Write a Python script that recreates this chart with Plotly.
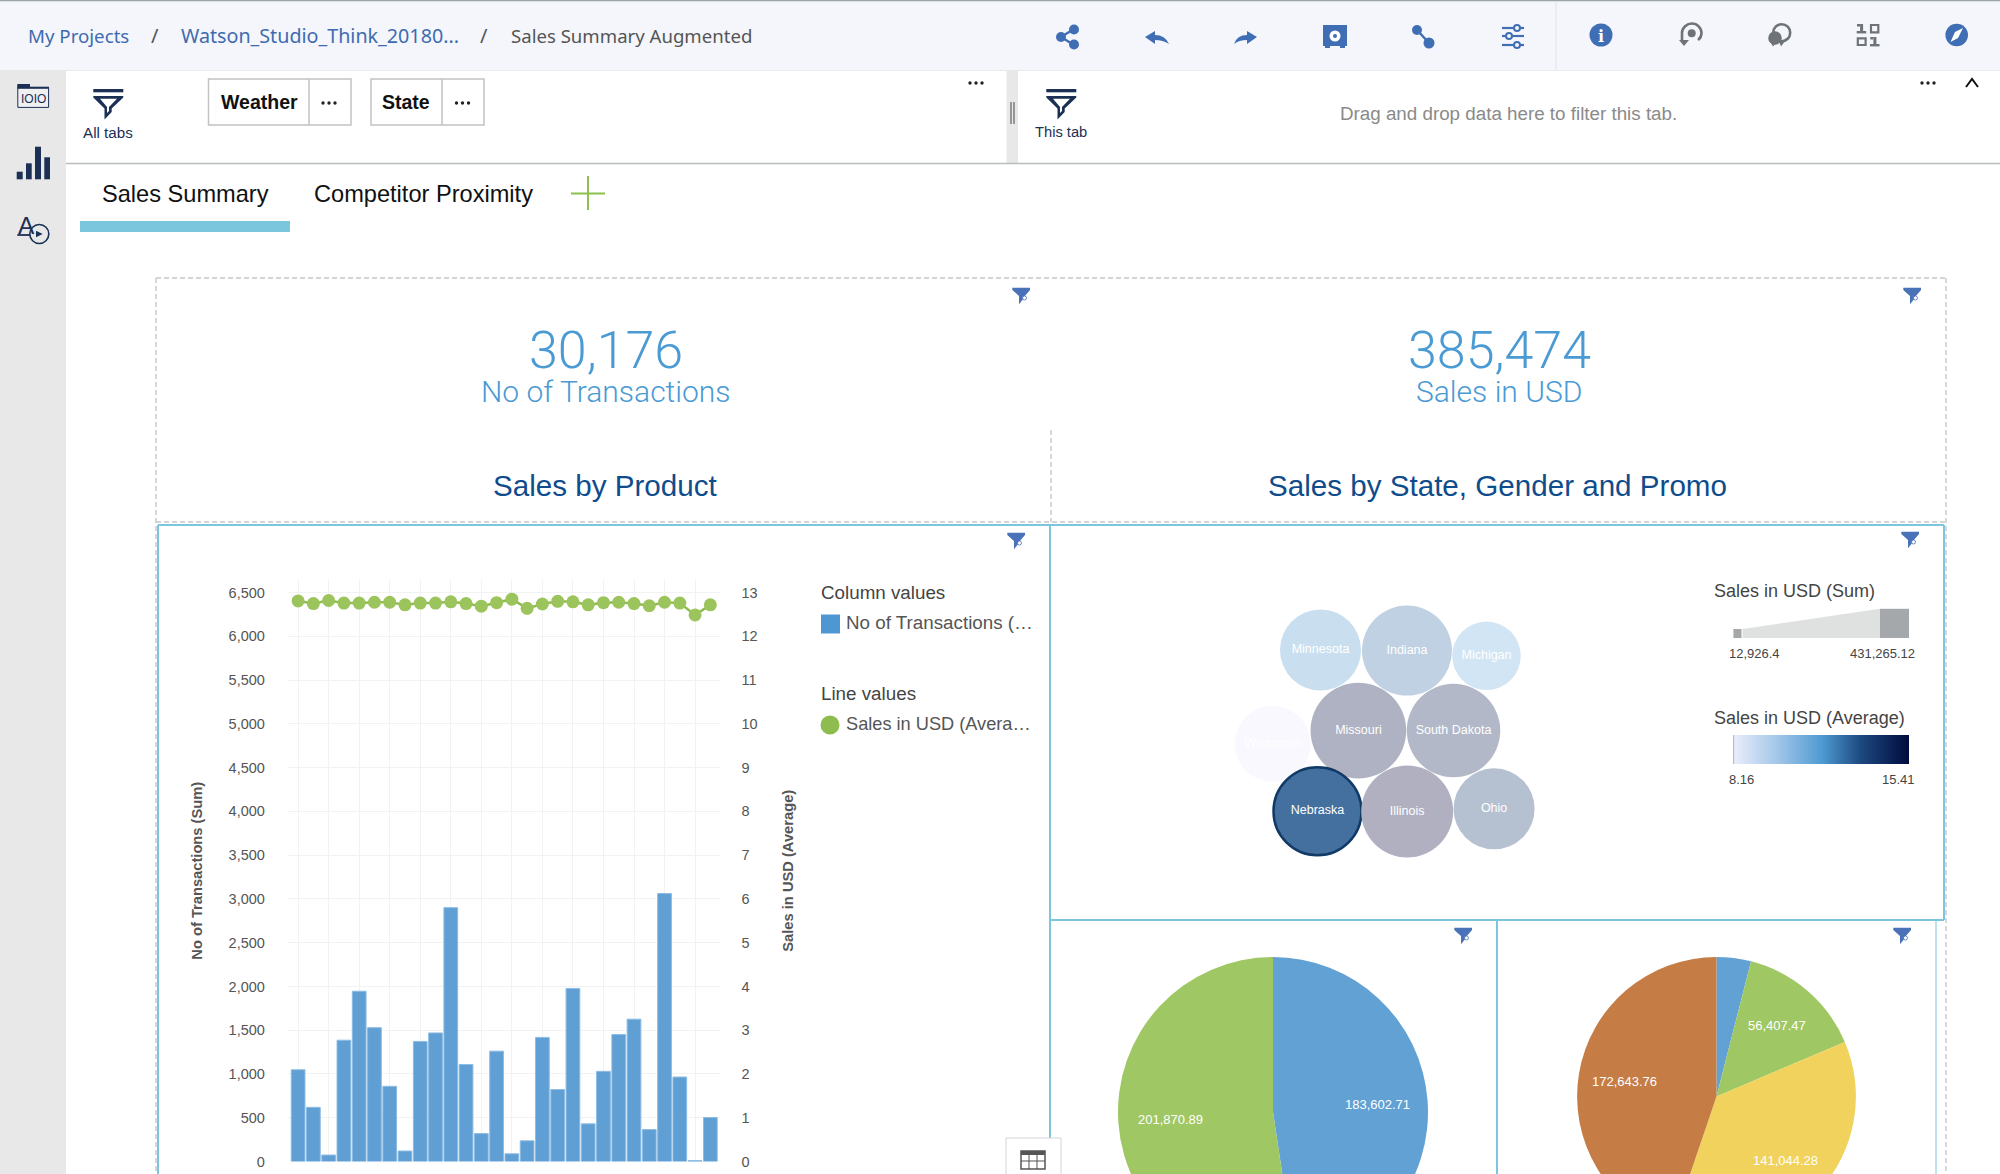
import plotly.graph_objects as go

# ---------- data ----------
product_ids = list(range(1, 29))
transactions = [1048, 619, 74, 1386, 1945, 1529, 859, 120, 1372, 1469, 2900, 1108, 319, 1261,
                88, 236, 1418, 822, 1977, 430, 1030, 1450, 1626, 365, 3062, 965, 10, 503]
avg_sales = [12.81, 12.75, 12.82, 12.76, 12.76, 12.78, 12.78, 12.72, 12.76, 12.76, 12.79, 12.75, 12.69, 12.77,
             12.85, 12.64, 12.74, 12.80, 12.79, 12.72, 12.77, 12.78, 12.75, 12.70, 12.78, 12.76, 12.49, 12.72]
y_ticks_left = [0, 500, 1000, 1500, 2000, 2500, 3000, 3500, 4000, 4500, 5000, 5500, 6000, 6500]
y_ticks_right = list(range(0, 14))

states = ["Minnesota", "Indiana", "Michigan", "Missouri", "South Dakota", "Wisconsin", "Nebraska", "Illinois", "Ohio"]
state_sales = [308900, 381400, 221000, 431265, 411700, 271300, 364700, 398600, 308900]

gender_labels = ["Female", "Male"]
gender_sales = [183602.71, 201870.89]
promo_labels = ["Promo A", "Promo B", "Promo C", "Promo D"]
promo_sales = [15378.09, 56407.47, 141044.28, 172643.76]

kpi_transactions = "30,176"
kpi_sales = "385,474"
sum_range = ["12,926.4", "431,265.12"]
avg_range = [8.16, 15.41]

# ---------- page geometry ----------
W, H = 2000, 1300
FIG_H = H + 8  # plotly keeps 8px back under the plot area
VIEW_H = 1174
SANS = "Liberation Sans"
UI = "Noto Sans"
KPIF = "Roboto"
NAVY = "#1c2f55"
TOOL = "#3f6eb5"
GREY = "#6e7378"
PANEL = "#7cc6dd"
DASH = "#c8c8c8"
DASHP = "5px,3px"
BAR_BG = "#f4f6fb"

# circle-pack placement on the page, in page pixels
bubble_px = [1320.5, 1407, 1486.5, 1358.4, 1453.5, 1272.7, 1317.5, 1407.2, 1494.1]
bubble_py = [650, 650.6, 655.8, 730.6, 730.6, 743.8, 811.3, 811.5, 808.8]
bubble_colors = ["#c9dff0", "#bfd1e2", "#d2e5f4", "#afb2c2", "#b3b8c8", "#f8f8fe", "#43709f", "#b0b0c1", "#b5c0d0"]

shapes = []
annotations = []


def sh(**k):
    k.setdefault("xref", "x3")
    k.setdefault("yref", "y3")
    k.setdefault("layer", "below")
    shapes.append(k)


def rect(x0, y0, x1, y1, fill=None, line=None, lw=1, dash=None):
    sh(type="rect", x0=x0, y0=y0, x1=x1, y1=y1, fillcolor=fill or "rgba(0,0,0,0)",
       line=dict(color=line or "rgba(0,0,0,0)", width=lw if line else 0, dash=dash or "solid"))


def seg(x0, y0, x1, y1, color, lw=1, dash=None):
    sh(type="line", x0=x0, y0=y0, x1=x1, y1=y1, line=dict(color=color, width=lw, dash=dash or "solid"))


def circ(cx, cy, r, fill=None, line=None, lw=1):
    sh(type="circle", x0=cx - r, y0=cy - r, x1=cx + r, y1=cy + r, fillcolor=fill or "rgba(0,0,0,0)",
       line=dict(color=line or "rgba(0,0,0,0)", width=lw if line else 0))


def path(d, fill=None, line=None, lw=1):
    sh(type="path", path=d, fillcolor=fill or "rgba(0,0,0,0)",
       line=dict(color=line or "rgba(0,0,0,0)", width=lw if line else 0))


def txt(x, y, s, size, color="#333", anchor="left", family=SANS, weight=None, angle=0):
    annotations.append(dict(x=x, y=y, xref="x3", yref="y3", text=s, showarrow=False, xanchor=anchor,
                            yanchor="middle", textangle=angle,
                            font=dict(size=size, color=color, family=family, weight=weight), borderpad=0, borderwidth=0))


def dots(cx, cy, color="#222"):
    for dx in (-6, 0, 6):
        circ(cx + dx, cy, 1.7, fill=color)


def big_funnel(cx):
    rect(cx - 15, 89, cx + 15, 92.3, fill=NAVY)
    path(f"M{cx-15},96 L{cx+15},96 L{cx+15},97.5 L{cx+3.4},108.5 L{cx+3.4},112 L{cx-3.8},119.5 "
         f"L{cx-3.8},108.5 L{cx-15},97.5 Z", fill=NAVY)
    path(f"M{cx-8.3},98.8 L{cx+8.7},98.8 L{cx+0.7},107 L{cx+0.7},111 L{cx-1.3},113 L{cx-1.3},107 Z", fill="#ffffff")


def small_funnel(cx, cy):
    path(f"M{cx-8.7},{cy-8.3} L{cx+9},{cy-8.3} L{cx+9},{cy-6} L{cx+3},{cy+1} L{cx+3},{cy+2} "
         f"L{cx-2},{cy+8.3} L{cx-2},{cy} L{cx-8.7},{cy-6} Z", fill="#4a72b8")
    circ(cx + 3.5, cy + 2, 2, fill="#ffffff", line="#4a72b8", lw=0.8)


def one_glyph(x, y):
    rect(x, y + 7, x + 9.5, y + 9.4, fill=GREY)
    rect(x + 3.4, y, x + 6.4, y + 8, fill=GREY)
    rect(x + 0.3, y, x + 3.4, y + 2.5, fill=GREY)


# ---------- chrome: top bar ----------
rect(0, 0, 2000, 70, fill=BAR_BG)
seg(0, 0.5, 2000, 0.5, "#9aa3a8", 1.5)
seg(1556, 2, 1556, 70, "#dfe3ea", 1)
seg(0, 70.5, 2000, 70.5, "#e8e9ec", 1)
txt(28, 35.5, "My Projects", 18.7, "#3e6bb0", family=UI)
txt(150.5, 35.5, "/", 20, "#555555", family=UI)
txt(181, 35.5, "Watson_Studio_Think_20180...", 19.7, "#3e6bb0", family=UI)
txt(480, 35.5, "/", 20, "#555555", family=UI)
txt(511, 35.5, "Sales Summary Augmented", 18.6, "#555555", family=UI)

# share
seg(1074, 29, 1061, 37, TOOL, 2.5)
seg(1061, 37, 1074, 45, TOOL, 2.5)
for c in [(1074, 29.5), (1061, 37), (1074, 44.5)]:
    circ(c[0], c[1], 5, fill=TOOL)
# undo / redo
path("M1145,37 L1155,31 L1155,35 Q1165,35 1169,44 Q1163,40 1155,40 L1155,44 Z", fill=TOOL)
path("M1257,37 L1247,31 L1247,35 Q1237,35 1234,44 Q1239,40 1247,40 L1247,44 Z", fill=TOOL)
# safe
rect(1323, 25, 1347, 46, fill=TOOL)
rect(1325, 46, 1330, 48, fill=TOOL)
rect(1340, 46, 1345, 48, fill=TOOL)
circ(1335, 36, 5.5, fill="#ffffff")
circ(1335, 36, 2, fill=TOOL)
# node link
seg(1417, 30, 1429, 43, TOOL, 2.5)
circ(1417, 30, 5, fill=TOOL)
circ(1429, 43, 5.5, fill=TOOL)
# sliders
for yy, kx in [(28, 1517), (36, 1509), (45, 1517)]:
    seg(1502, yy, 1524, yy, TOOL, 2.2)
    circ(kx, yy, 3, fill=BAR_BG, line=TOOL, lw=2)
# info
circ(1601, 35, 11.5, fill=TOOL)
txt(1601, 36, "i", 16, "#ffffff", anchor="center", family="DejaVu Serif", weight="bold")
# grey tools
path("M1682,40 L1682,33 C1682,27.5 1687,23.5 1692,23.5 C1697,23.5 1701.5,28 1701.5,33 C1701.5,36 1700,38.5 1698,40",
     line=GREY, lw=2.6)
circ(1691.7, 33.3, 4, fill=GREY)
path("M1679,40 L1689,40 L1684,46 Z", fill=GREY)
circ(1781.7, 32.7, 8.5, line=GREY, lw=2.6)
circ(1775, 38, 6.8, fill=GREY)
path("M1771,43 L1776,43 L1773,46.5 Z", fill=GREY)
path("M1779,41 L1785,41 L1781,46.5 Z", fill=GREY)
one_glyph(1856.7, 24)
rect(1871, 25, 1878.3, 32.3, line=GREY, lw=2.2)
rect(1857.8, 38.4, 1865.6, 45, line=GREY, lw=2.2)
one_glyph(1870, 37)
circ(1956.7, 35, 11.3, fill=TOOL)
path("M1963,28 L1958,38 L1950.5,42 L1955,32 Z", fill="#ffffff")

# ---------- chrome: side bar and filters ----------
rect(0, 70, 66, VIEW_H + 10, fill="#e8e8e8")
rect(17.8, 88, 48.6, 107.4, fill="#f0f0f2", line=NAVY, lw=1)
rect(17.3, 84, 30, 88, fill=NAVY)
rect(17.3, 86.7, 49, 88.6, fill=NAVY)
txt(33, 99, "IOIO", 12, NAVY, anchor="center")
rect(16.7, 171.7, 22.7, 179.3, fill=NAVY)
rect(26, 163.3, 31.7, 179.3, fill=NAVY)
rect(35, 146.7, 41, 179.3, fill=NAVY)
rect(44.3, 157.3, 50, 179.3, fill=NAVY)
txt(26.5, 225, "A", 24.4, NAVY, anchor="center")
seg(17.3, 235, 30, 235, NAVY, 1.8)
circ(39.3, 234, 9.5, fill="#e8e8e8", line=NAVY, lw=1.6)
path("M36,230.7 L42.7,234 L36,237.3 Z", fill=NAVY)

big_funnel(108.3)
txt(107.5, 132, "All tabs", 15.2, "#1c2f55", anchor="center")
rect(208.5, 79, 351, 125, line="#c2c2c2", lw=1.5)
seg(309, 79, 309, 125, "#c2c2c2", 1.5)
txt(259.5, 102, "Weather", 19.5, "#111111", anchor="center", weight="bold")
dots(329, 103)
rect(371, 79, 484, 125, line="#c2c2c2", lw=1.5)
seg(442, 79, 442, 125, "#c2c2c2", 1.5)
txt(406, 102, "State", 19.5, "#111111", anchor="center", weight="bold")
dots(462.5, 103)
dots(976, 83)
rect(1006.5, 70, 1018, 163, fill="#e8e8e8")
seg(1011, 102, 1011, 124, "#444444", 1)
seg(1014, 102, 1014, 124, "#444444", 1)
big_funnel(1061.3)
txt(1061, 132, "This tab", 14.7, "#1c2f55", anchor="center")
txt(1508, 113.5, "Drag and drop data here to filter this tab.", 18.8, "#8a8a8a", anchor="center")
dots(1928, 83)
path("M1966,87 L1972,79 L1978,87", line="#111111", lw=2)
seg(66, 163.5, 2000, 163.5, "#b9bcbd", 1.5)

# ---------- tabs ----------
txt(185.5, 193.5, "Sales Summary", 23.6, "#111111", anchor="center")
txt(423, 193.5, "Competitor Proximity", 23.6, "#111111", anchor="center")
rect(80, 221, 290, 232, fill="#7cc6dd")
seg(571, 193.5, 605, 193.5, "#8cbf4d", 2)
seg(588, 176, 588, 210, "#8cbf4d", 2)

# ---------- dashboard frames ----------
seg(156, 278, 1946, 278, DASH, 1.4, DASHP)
seg(156, 278, 156, VIEW_H + 10, DASH, 1.4, DASHP)
seg(1946, 278, 1946, VIEW_H + 10, DASH, 1.4, DASHP)
seg(1051, 430, 1051, 522, DASH, 1.4, DASHP)
seg(156, 522, 1946, 522, DASH, 1.4, DASHP)
seg(158, 525, 1944, 525, PANEL, 2)
seg(158, 525, 158, VIEW_H + 10, PANEL, 2)
seg(1050, 525, 1050, VIEW_H + 10, PANEL, 2)
seg(1944, 525, 1944, 920, PANEL, 2)
seg(1050, 920, 1944, 920, PANEL, 2)
seg(1497, 920, 1497, VIEW_H + 10, PANEL, 2)
seg(1936, 920, 1936, VIEW_H + 10, PANEL, 1)
for fx, fy in [(1021, 296), (1912, 296), (1016, 541), (1910, 540), (1463, 936), (1902, 936)]:
    small_funnel(fx, fy)

# table toggle
rect(1006, 1138, 1061, 1190, fill="#ffffff", line="#d5d5d5", lw=1)
rect(1021, 1151, 1045, 1169, line="#555555", lw=1.5)
rect(1021, 1151, 1045, 1155, fill="#555555")
for gx in (1029, 1037):
    seg(gx, 1151, gx, 1169, "#555555", 1)
seg(1021, 1161, 1045, 1161, "#555555", 1)

# ---------- KPI and titles ----------
KPI = "#4a9ad4"
txt(606, 350, kpi_transactions, 52, KPI, anchor="center", family=KPIF, weight=300)
txt(606, 391.5, "No of Transactions", 30, KPI, anchor="center", family=KPIF, weight=300)
txt(1499, 350, kpi_sales, 52, KPI, anchor="center", family=KPIF, weight=300)
txt(1499, 391.5, "Sales in USD", 30, KPI, anchor="center", family=KPIF, weight=300)
txt(605, 485.5, "Sales by Product", 29.6, "#0f4c8c", anchor="center", family=SANS)
txt(1497, 485.5, "Sales by State, Gender and Promo", 29.6, "#0f4c8c", anchor="center", family=SANS)

# ---------- bar chart legend ----------
txt(821, 592.6, "Column values", 18.8, "#444444")
rect(821, 614.5, 840, 633.5, fill="#4f97d2")
txt(845.5, 622.5, "No of Transactions (…", 18.8, "#555555")
txt(821, 693.7, "Line values", 18.8, "#444444")
circ(830, 725, 9.5, fill="#8fbc4e")
txt(845.5, 724, "Sales in USD (Avera…", 18.2, "#555555")

# ---------- bubble legends ----------
txt(1714, 591, "Sales in USD (Sum)", 18, "#444444")
rect(1733.4, 629, 1741.5, 638, fill="#a5a8a9")
path("M1742.5,629 L1880,608.8 L1880,638 L1742.5,638 Z", fill="#dfe1e0")
rect(1880, 608.8, 1909, 638, fill="#a5a8aa")
txt(1729, 653.4, sum_range[0], 13, "#444444")
txt(1915, 653.4, sum_range[1], 13, "#444444", anchor="right")
txt(1714, 717.5, "Sales in USD (Average)", 18, "#444444")
sh(type="line", x0=1733.6, y0=735, x1=1733.6, y1=764, line=dict(color="#bcbcc4", width=1.2), layer="above")
txt(1729, 779.6, f"{avg_range[0]:.2f}", 13, "#444444")
txt(1915, 779.6, f"{avg_range[1]:.2f}", 13, "#444444", anchor="right")

# ---------- pie labels ----------
txt(1377, 1104, f"{gender_sales[0]:,.2f}", 13, "#ffffff", anchor="center")
txt(1170, 1119, f"{gender_sales[1]:,.2f}", 13, "#ffffff", anchor="center")
txt(1777, 1025.5, f"{promo_sales[1]:,.2f}", 13, "#ffffff", anchor="center")
txt(1785, 1160, f"{promo_sales[2]:,.2f}", 13, "#ffffff", anchor="center")
txt(1624.5, 1081, f"{promo_sales[3]:,.2f}", 13, "#ffffff", anchor="center")

# ---------- figure ----------
fig = go.Figure()

fig.add_trace(go.Bar(x=product_ids, y=transactions, width=0.9, xaxis="x", yaxis="y",
                     marker=dict(color="#609fd3", line=dict(color="#8cbce4", width=1)), showlegend=False))
fig.add_trace(go.Scatter(x=product_ids, y=avg_sales, xaxis="x", yaxis="y2", mode="lines+markers",
                         line=dict(color="#8fbc4e", width=2.5), marker=dict(color="#9cc45c", size=13), showlegend=False))
fig.add_trace(go.Scatter(x=bubble_px, y=bubble_py, xaxis="x3", yaxis="y3", mode="markers+text", text=states,
                         textposition="middle center", textfont=dict(color="#ffffff", size=12.5, family=SANS),
                         marker=dict(size=state_sales, sizemode="area", sizeref=94.18, color=bubble_colors,
                                     opacity=1,
                                     line=dict(color=["rgba(0,0,0,0)"] * 6 + ["#123a66"] + ["rgba(0,0,0,0)"] * 2,
                                               width=[0] * 6 + [2.5] + [0] * 2)),
                         showlegend=False))
fig.add_trace(go.Heatmap(x=[0, 1], y=[0, 1], z=[avg_range, avg_range], xaxis="x4", yaxis="y4", zsmooth="best",
                         showscale=False, zmin=avg_range[0], zmax=avg_range[1],
                         colorscale=[[0, "#e9eefb"], [0.25, "#a3c6e8"], [0.5, "#4f9bd3"], [0.72, "#1d4a80"], [1, "#000a3c"]]))
fig.add_trace(go.Pie(labels=gender_labels, values=gender_sales, sort=False, direction="clockwise", rotation=0,
                     textinfo="none", marker=dict(colors=["#62a1d3", "#9fc763"], line=dict(width=0)),
                     domain=dict(x=[(1273 - 155) / W, (1273 + 155) / W], y=[1 - (1112 + 155) / H, 1 - (1112 - 155) / H]),
                     showlegend=False))
fig.add_trace(go.Pie(labels=promo_labels, values=promo_sales, sort=False, direction="clockwise", rotation=0,
                     textinfo="none", marker=dict(colors=["#62a1d3", "#9fc763", "#f0d25c", "#c57c45"], line=dict(width=0)),
                     domain=dict(x=[(1716.5 - 139.4) / W, (1716.5 + 139.4) / W], y=[1 - (1096.4 + 139.4) / H, 1 - (1096.4 - 139.4) / H]),
                     showlegend=False))

tickfont = dict(size=14.5, color="#555555", family=SANS)
titlefont = dict(size=14.7, color="#555555", family=SANS, weight="bold")
y_top, y_bot = 580, 1161.5
dom_y = [1 - y_bot / H, 1 - y_top / H]

fig.update_layout(
    width=W, height=FIG_H, autosize=False, margin=dict(l=0, r=0, t=0, b=0, pad=0),
    paper_bgcolor="#ffffff", plot_bgcolor="rgba(0,0,0,0)", bargap=0.1, showlegend=False,
    shapes=shapes, annotations=annotations,
    xaxis=dict(domain=[287.8 / W, 719.5 / W], range=[0.325, 28.6], tick0=1, dtick=2, showticklabels=False,
               showgrid=True, gridcolor="#f2f2f2", gridwidth=1, zeroline=False, showline=False, ticks="",
               anchor="y", fixedrange=True),
    yaxis=dict(domain=dom_y, range=[0, 6644], tickvals=y_ticks_left, tickformat=",d", tickfont=tickfont,
               showgrid=True, gridcolor="#f2f2f2", gridwidth=1, zeroline=False, showline=False,
               ticks="outside", ticklen=19, tickcolor="rgba(0,0,0,0)",
               title=dict(text="No of Transactions (Sum)", font=titlefont, standoff=22), anchor="x", fixedrange=True),
    yaxis2=dict(domain=dom_y, range=[0, 13.288], tickvals=y_ticks_right, tickfont=tickfont, overlaying="y", side="right",
                showgrid=False, zeroline=False, showline=False, ticks="outside", ticklen=18, tickcolor="rgba(0,0,0,0)",
                title=dict(text="Sales in USD (Average)", font=titlefont, standoff=26), anchor="x", fixedrange=True),
    xaxis3=dict(domain=[0, 1], range=[0, W], visible=False, fixedrange=True, anchor="y3"),
    yaxis3=dict(domain=[0, 1], range=[H, 0], visible=False, fixedrange=True, anchor="x3"),
    xaxis4=dict(domain=[1733.4 / W, 1909 / W], range=[0, 1], visible=False, fixedrange=True, anchor="y4"),
    yaxis4=dict(domain=[1 - 764 / H, 1 - 735 / H], range=[0, 1], visible=False, fixedrange=True, anchor="x4"),
)

post = ("document.documentElement.style.overflow='hidden';"
        "document.body.style.margin='0';document.body.style.overflow='hidden';"
        f"document.body.style.height='{VIEW_H}px';")
fig.write_html("out.html", post_script=post, config=dict(displayModeBar=False))
